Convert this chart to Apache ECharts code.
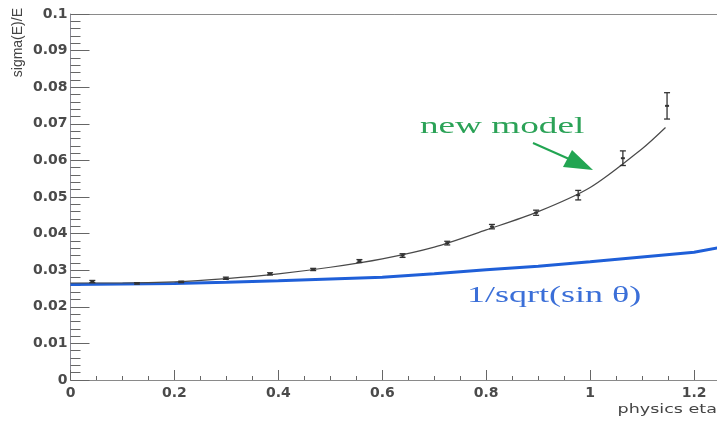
<!DOCTYPE html>
<html>
<head>
<meta charset="utf-8">
<script src="https://cdn.jsdelivr.net/npm/echarts@6/dist/echarts.min.js"></script>
<style>
  html, body { margin: 0; padding: 0; background: #fff; }
  #chart { width: 717px; height: 421px; }
</style>
</head>
<body>
<div id="chart"></div>
<script>
// Energy resolution sigma(E)/E versus pseudorapidity.

// Measured points with their uncertainties
const etaPts   = [0.042, 0.128, 0.213, 0.299, 0.384, 0.467, 0.556, 0.639, 0.725, 0.811, 0.896, 0.977, 1.063, 1.148];
const sigmaPts = [0.0269, 0.0264, 0.0268, 0.0278, 0.0290, 0.0302, 0.0325, 0.0340, 0.0374, 0.0419, 0.0457, 0.0505, 0.0606, 0.0749];
const errPts   = [0.0003, 0.0002, 0.0002, 0.0003, 0.0003, 0.0003, 0.0004, 0.0005, 0.0005, 0.0006, 0.0007, 0.0013, 0.0020, 0.0036];

// "new model" curve
const modelEta   = [0, 0.1, 0.2, 0.3, 0.4, 0.5, 0.6, 0.7, 0.8, 0.9, 1.0, 1.1, 1.145];
const modelSigma = [0.0265, 0.0265, 0.0268, 0.0277, 0.0290, 0.0308, 0.0331, 0.0363, 0.0410, 0.0460, 0.0526, 0.0632, 0.0690];

// 1/sqrt(sin theta) reference curve
const refEta   = [0, 0.1, 0.2, 0.3, 0.4, 0.5, 0.6, 0.7, 0.8, 0.9, 1.0, 1.1, 1.2, 1.25];
const refSigma = [0.0261, 0.0262, 0.0264, 0.0267, 0.0271, 0.0276, 0.0281, 0.0290, 0.0301, 0.0311, 0.0323, 0.0336, 0.0349, 0.0362];

// Axis ticks
const xTicks = { min: 0, max: 1.4, step: 0.2 };
const yTicks = { min: 0, max: 0.1, step: 0.01 };

const zip = (a, b) => a.map((v, i) => [v, b[i]]);

const chart = echarts.init(document.getElementById('chart'), null, { renderer: 'canvas' });

const axisLabelFont = {
  fontFamily: 'DejaVu Sans',
  fontWeight: 'bold',
  fontSize: 14,
  color: '#4a4a4a'
};

chart.setOption({
  animation: false,
  backgroundColor: '#ffffff',
  grid: { left: 70.5, top: 14, bottom: 41, right: -81, containLabel: false, outerBoundsMode: 'none' },
  xAxis: [
    {
      type: 'value',
      min: xTicks.min, max: xTicks.max, interval: xTicks.step,
      position: 'bottom',
      axisLine: { show: true, onZero: false, lineStyle: { color: '#8a8a8a', width: 1 } },
      axisTick: { show: true, inside: true, length: 10, lineStyle: { color: '#666' } },
      minorTick: { show: true, splitNumber: 4, length: 4, lineStyle: { color: '#666' } },
      axisLabel: Object.assign({ margin: 6, formatter: v => String(+v.toFixed(2)) }, axisLabelFont),
      splitLine: { show: false }
    },
    {
      type: 'value',
      min: xTicks.min, max: xTicks.max, interval: xTicks.step,
      position: 'top',
      axisLine: { show: true, onZero: false, lineStyle: { color: '#8a8a8a', width: 1 } },
      axisTick: { show: false },
      axisLabel: { show: false },
      splitLine: { show: false }
    }
  ],
  yAxis: {
    type: 'value',
    min: yTicks.min, max: yTicks.max, interval: yTicks.step,
    axisLine: { show: true, onZero: false, lineStyle: { color: '#8a8a96', width: 1 } },
    axisTick: { show: true, inside: true, length: 19, lineStyle: { color: '#666' } },
    minorTick: { show: true, splitNumber: 5, length: 10, lineStyle: { color: '#666' } },
    axisLabel: Object.assign({ margin: 3, formatter: v => String(+v.toFixed(3)) }, axisLabelFont),
    splitLine: { show: false }
  },
  series: [
    {
      name: '1/sqrt(sin θ)',
      type: 'line',
      data: zip(refEta, refSigma),
      showSymbol: false,
      smooth: false,
      lineStyle: { color: '#1f5fd8', width: 3 },
      z: 2
    },
    {
      name: 'new model',
      type: 'line',
      data: zip(modelEta, modelSigma),
      showSymbol: false,
      smooth: 0.3,
      lineStyle: { color: '#4a4a4a', width: 1.2 },
      z: 3
    },
    {
      name: 'measured',
      type: 'custom',
      data: etaPts.map((e, i) => [e, sigmaPts[i], errPts[i]]),
      renderItem: function (params, api) {
        const x = api.value(0), y = api.value(1), e = api.value(2);
        const hi = api.coord([x, y + e]);
        const lo = api.coord([x, y - e]);
        const mid = api.coord([x, y]);
        const style = { stroke: '#333', lineWidth: 1.3 };
        return {
          type: 'group',
          children: [
            { type: 'line', shape: { x1: hi[0], y1: hi[1], x2: lo[0], y2: lo[1] }, style },
            { type: 'line', shape: { x1: hi[0] - 3, y1: hi[1], x2: hi[0] + 3, y2: hi[1] }, style },
            { type: 'line', shape: { x1: lo[0] - 3, y1: lo[1], x2: lo[0] + 3, y2: lo[1] }, style },
            { type: 'rect', shape: { x: mid[0] - 2, y: mid[1] - 1, width: 4, height: 2 }, style: { fill: '#333' } }
          ]
        };
      },
      z: 4
    }
  ],
  graphic: [
    {
      type: 'text', x: 18, y: 8, rotation: Math.PI / 2,
      style: { text: 'sigma(E)/E', x: 0, y: 0, font: '14px "Liberation Sans"', fill: '#444',
               align: 'right', verticalAlign: 'middle' }
    },
    {
      type: 'text', x: 717, y: 410, scaleX: 1.35,
      style: { text: 'physics eta', x: 0, y: 0, font: '13px "DejaVu Sans"', fill: '#444',
               align: 'right', verticalAlign: 'middle' }
    },
    {
      type: 'text', x: 420, y: 127, scaleX: 1.55,
      style: { text: 'new model', x: 0, y: 0, font: '24px "Liberation Serif"', fill: '#2ba257',
               align: 'left', verticalAlign: 'middle' }
    },
    {
      type: 'line',
      shape: { x1: 533, y1: 143, x2: 568, y2: 158.5 },
      style: { stroke: '#22a552', lineWidth: 2 }
    },
    {
      type: 'polygon',
      shape: { points: [[593, 170], [563, 167], [572, 150]] },
      style: { fill: '#22a552' }
    },
    {
      type: 'text', x: 467, y: 296, scaleX: 1.5,
      style: { text: '1/sqrt(sin θ)', x: 0, y: 0, font: '24px "Liberation Serif"', fill: '#3b6fd8',
               align: 'left', verticalAlign: 'middle' }
    }
  ]
});
</script>
</body>
</html>
